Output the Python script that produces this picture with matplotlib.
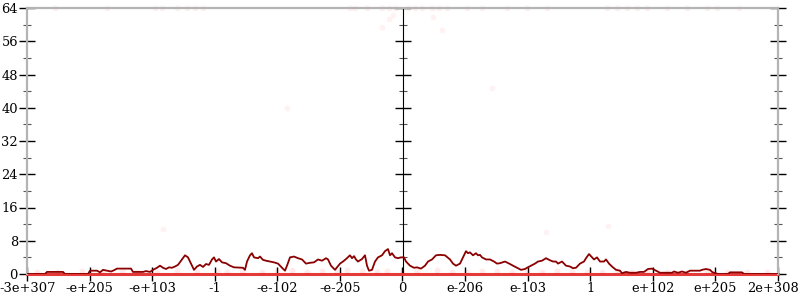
import matplotlib
matplotlib.use("Agg")
import matplotlib.pyplot as plt
from matplotlib.ticker import MultipleLocator, NullFormatter
from matplotlib.transforms import ScaledTranslation

# x positions are bin positions along the ordered float axis (0 .. 751)
tick_labels = ["-3e+307", "-e+205", "-e+103", "-1", "-e-102", "-e-205", "0",
               "e-206", "e-103", "1", "e+102", "e+205", "2e+308"]
x_max = 751

pos = [0, 18, 20, 36, 38, 61, 63, 70, 73, 76, 80, 84, 87, 90, 104, 106, 116, 119, 123,
       126, 130, 133, 136, 139, 142, 145, 148, 151, 155, 158, 161, 164, 167, 170, 173,
       176, 179, 182, 185, 187, 189, 192, 195, 199, 203, 207, 216, 218, 220, 223, 225,
       227, 231, 233, 236, 239, 243, 247, 251, 255, 258, 260, 263, 267, 271, 275, 279,
       283, 287, 291, 295, 299, 301, 304, 308, 310, 313, 316, 319, 323, 325, 327, 329,
       331, 335, 338, 340, 342, 345, 348, 351, 355, 358, 361, 363, 365, 368, 371, 374,
       377, 379, 383, 387, 390, 394, 398, 401, 405, 409, 413, 418, 423, 426, 429, 433,
       435, 437, 439, 441, 443, 446, 449, 451, 453, 455, 459, 463, 467, 470, 473, 478,
       483, 486, 490, 494, 498, 500, 504, 508, 511, 515, 519, 523, 526, 529, 531, 535,
       537, 539, 543, 546, 549, 553, 557, 559, 562, 565, 567, 570, 573, 577, 579, 582,
       585, 589, 593, 595, 599, 603, 609, 613, 617, 621, 625, 629, 633, 645, 647, 651,
       655, 659, 663, 673, 675, 679, 683, 685, 687, 691, 701, 703, 715, 717, 751]
vals = [0, 0, 0.5, 0.5, 0, 0, 0.8, 0.8, 0.4, 1.0, 0.8, 0.6, 0.9, 1.3, 1.3, 0.5, 0.5,
        0.7, 0.5, 1.0, 1.5, 2.0, 1.5, 1.2, 1.6, 1.5, 1.8, 2.2, 3.5, 4.5, 4.0, 2.5, 1.0,
        1.8, 2.2, 1.7, 2.4, 2.2, 3.5, 4.0, 3.0, 3.6, 2.8, 2.6, 2.0, 1.6, 1.5, 1.0, 3.0,
        4.5, 5.0, 4.0, 3.8, 4.2, 3.4, 3.2, 3.0, 2.8, 2.5, 1.5, 0.8, 2.0, 4.0, 4.2, 3.8,
        3.5, 2.5, 2.7, 2.8, 3.5, 3.2, 3.8, 3.5, 2.0, 1.0, 1.6, 2.5, 3.0, 3.6, 4.5, 3.8,
        4.3, 3.5, 3.0, 3.6, 4.5, 2.0, 0.8, 1.0, 3.0, 4.0, 4.5, 5.5, 6.0, 4.5, 5.0, 4.0,
        3.8, 4.0, 4.0, 3.0, 2.0, 1.5, 1.6, 1.3, 2.0, 3.0, 3.5, 4.5, 4.6, 4.5, 3.5, 2.5,
        2.0, 2.5, 3.5, 4.5, 5.5, 5.0, 5.2, 4.5, 5.0, 4.5, 4.6, 4.0, 3.5, 3.5, 3.0, 2.5,
        2.6, 3.0, 2.4, 2.0, 1.5, 1.0, 1.2, 1.5, 2.0, 2.5, 3.0, 3.2, 3.8, 3.3, 3.0, 3.0,
        2.5, 3.0, 2.5, 2.0, 1.8, 1.4, 1.5, 2.5, 3.0, 3.8, 4.8, 4.0, 3.5, 4.0, 3.0, 3.0,
        3.5, 2.5, 1.8, 1.0, 0.8, 0.2, 0.5, 0.3, 0.3, 0.5, 0.5, 1.2, 1.3, 0.8, 0.3, 0.3,
        0.6, 0.3, 0.6, 0.3, 0.8, 0.8, 1.0, 1.2, 1.0, 0.5, 0.3, 0.0, 0.0, 0.4, 0.4, 0.0,
        0.0]

# faint raw samples
top_pos = [28, 80, 128, 135, 150, 160, 168, 176, 323, 328, 340, 355, 362, 368, 381,
           388, 395, 405, 412, 420, 440, 455, 480, 500, 520, 580, 590, 600, 610, 620,
           640, 660, 680, 690, 712]
top_vals = [64] * len(top_pos)
mid_pos = [136, 260, 465, 519, 581, 355, 366, 362, 406, 415]
mid_vals = [10.8, 40, 44.7, 10, 11.5, 59.4, 62.3, 61.4, 61.8, 58.7]
low_pos = [10, 30, 55, 75, 95, 110, 130, 150, 170, 190, 200, 215, 235, 250, 265, 280,
           295, 310, 320, 335, 350, 360, 375, 390, 410, 425, 440, 455, 470, 485, 500,
           515, 530, 545, 560, 575, 590, 605, 620, 640, 660, 680, 700, 720, 740]
low_vals = [0.6, 0.4, 0.7, 0.5, 0.8, 0.6, 0.5, 0.9, 0.6, 0.7, 0.5, 0.8, 0.6, 0.7, 0.9,
            0.5, 0.8, 0.6, 0.9, 0.7, 0.5, 0.8, 0.6, 0.7, 0.9, 0.5, 0.6, 0.8, 0.7, 0.6,
            0.9, 0.5, 0.7, 0.8, 0.6, 0.5, 0.9, 0.6, 0.7, 0.5, 0.6, 0.8, 0.5, 0.6, 0.4]

plt.rcParams['font.family'] = ['DejaVu Serif']
fig = plt.figure(figsize=(8, 3), dpi=100)
ax = fig.add_axes([27 / 800, 1 - 274 / 300, 751 / 800, 266 / 300])

ax.set_xlim(0, x_max)
ax.set_ylim(0, 64)

ax.axhline(0, color='#e43a3a', lw=2.2, zorder=2, clip_on=False)
ax.scatter(low_pos, low_vals, s=18, color='red', alpha=0.08, lw=0, zorder=2)
ax.scatter(top_pos, top_vals, s=18, color='red', alpha=0.06, lw=0, zorder=2, clip_on=False)
ax.scatter(mid_pos, mid_vals, s=18, color='red', alpha=0.05, lw=0, zorder=2)
ax.plot(pos, vals, color='#8b0000', lw=1.3, zorder=4)

for s in ['left', 'right', 'top']:
    ax.spines[s].set_color('#b4b4b4')
    ax.spines[s].set_linewidth(1.6)
ax.spines['bottom'].set_visible(False)

ax.set_xticks([x_max * i / 12 for i in range(13)])
ax.set_xticklabels(tick_labels)
ax.yaxis.set_major_locator(MultipleLocator(8))
ax.yaxis.set_minor_locator(MultipleLocator(4))
ax.tick_params(axis='x', direction='inout', length=10, width=1, color='black',
               labelsize=9.4, pad=1)
ax.tick_params(axis='y', which='major', direction='inout', length=11, width=1,
               color='black', labelsize=9.4, pad=1, right=True)
ax.tick_params(axis='y', which='minor', direction='inout', length=6, width=0.8,
               color='#555555', right=True)

# keep the outermost labels inside the canvas
labels = ax.get_xticklabels()
labels[-1].set_transform(labels[-1].get_transform() +
                         ScaledTranslation(-5 / 100, 0, fig.dpi_scale_trans))
labels[0].set_transform(labels[0].get_transform() +
                        ScaledTranslation(1 / 100, 0, fig.dpi_scale_trans))

sec = ax.secondary_yaxis(0.5)
sec.spines['left'].set_color('#444444')
sec.spines['left'].set_linewidth(1.0)
sec.yaxis.set_major_locator(MultipleLocator(8))
sec.yaxis.set_minor_locator(MultipleLocator(4))
sec.yaxis.set_major_formatter(NullFormatter())
sec.tick_params(which='major', direction='inout', length=11, width=1, color='black',
                labelleft=False, labelright=False)
sec.tick_params(which='minor', direction='inout', length=6, width=0.8, color='#555555')

fig.savefig('out.png', dpi=100)
